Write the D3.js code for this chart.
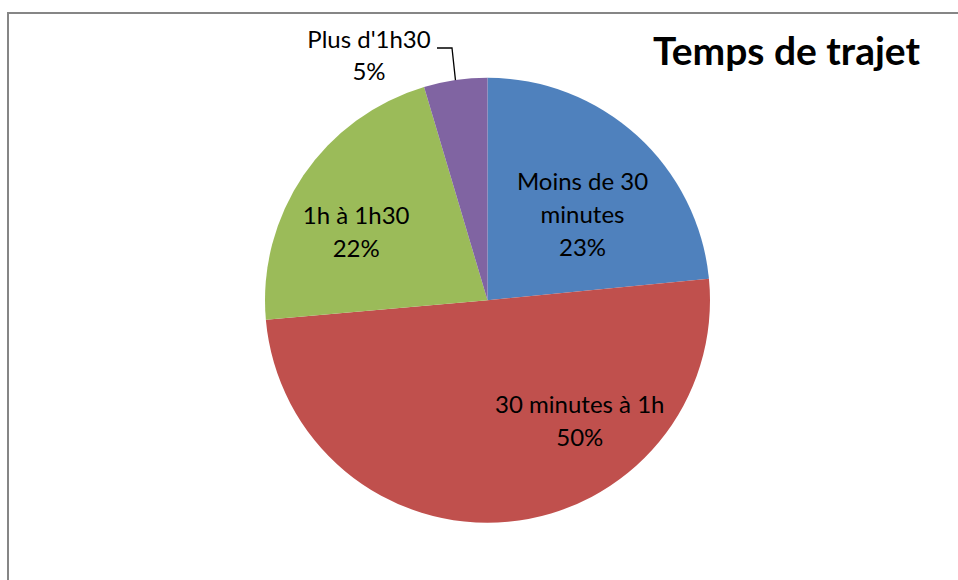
<!DOCTYPE html>
<html>
<head>
<meta charset="utf-8">
<script src="https://cdn.jsdelivr.net/npm/d3@7"></script>
<style>
  body { margin: 0; background: #fff; }
  text { font-family: Lato, "Liberation Sans", sans-serif; fill: #000; }
</style>
</head>
<body>
<div id="js-chart"></div>
<script>
// slices, clockwise from 12 o'clock
var categories = ['Moins de 30 minutes', '30 minutes à 1h', '1h à 1h30', "Plus d'1h30"];
var values = [23.45, 50.15, 21.8, 4.6];
var labelLines = [['Moins de 30', 'minutes'], ['30 minutes à 1h'], ['1h à 1h30'], ["Plus d'1h30"]];
var colors = ['#4F81BD', '#C0504D', '#9BBB59', '#8064A2'];
var title = 'Temps de trajet';

var width = 958;
var height = 580;
var cx = 487.5, cy = 300.3, radius = 222.5;
var fontSize = 24;
var lineH = 33;

var svg = d3.select('#js-chart').append('svg')
    .attr('width', width)
    .attr('height', height);

// chart frame (only top/left edges fall inside the picture)
svg.append('rect')
    .attr('x', 8).attr('y', 13)
    .attr('width', 1200).attr('height', 1200)
    .attr('fill', 'none')
    .attr('stroke', '#868686')
    .attr('stroke-width', 2);

var total = d3.sum(values);
var pct = d3.format('.0%');

var pie = d3.pie().sort(null).value((d) => d);
var arcs = pie(values);
var arc = d3.arc().innerRadius(0).outerRadius(radius);

var g = svg.append('g').attr('transform', `translate(${cx},${cy})`);

g.selectAll('path.slice')
    .data(arcs)
    .enter()
    .append('path')
    .attr('class', 'slice')
    .attr('d', arc)
    .attr('fill', (d, i) => colors[i]);

// label anchors: radius + angle shift relative to slice middle (Excel nudges them)
var labelPlace = [
    {r: 128, da: 0.1},
    {r: 152, da: -0.56},
    {r: 148, da: -0.118},
    null
];

arcs.forEach(function (d, i) {
    var place = labelPlace[i];
    var lines = labelLines[i].concat([pct(values[i] / total)]);
    var x, y, lh = lineH;
    if (place) {
        var a = (d.startAngle + d.endAngle) / 2 + place.da;
        x = Math.sin(a) * place.r;
        y = -Math.cos(a) * place.r;
    } else {
        // outside label with leader line
        var a2 = (d.startAngle + d.endAngle) / 2;
        var ex = Math.sin(a2) * radius, ey = -Math.cos(a2) * radius;
        x = -118.5;
        y = -244.3;
        lh = 32;
        var ly = y - lh / 2 + 8;
        g.append('polyline')
            .attr('points', [[x + 68, ly], [x + 83, ly], [ex, ey]].map((p) => p.join(',')).join(' '))
            .attr('fill', 'none')
            .attr('stroke', '#000')
            .attr('stroke-width', 1.3);
    }
    var t = g.append('text')
        .attr('text-anchor', 'middle')
        .style('font-size', fontSize + 'px');
    lines.forEach(function (s, j) {
        t.append('tspan')
            .attr('x', x)
            .attr('y', y + (j - (lines.length - 1) / 2) * lh)
            .attr('dy', '0.35em')
            .text(s);
    });
});

// title
svg.append('text')
    .attr('x', 920)
    .attr('y', 65)
    .attr('text-anchor', 'end')
    .style('font-size', '39px')
    .style('font-weight', 'bold')
    .text(title);
</script>
</body>
</html>
